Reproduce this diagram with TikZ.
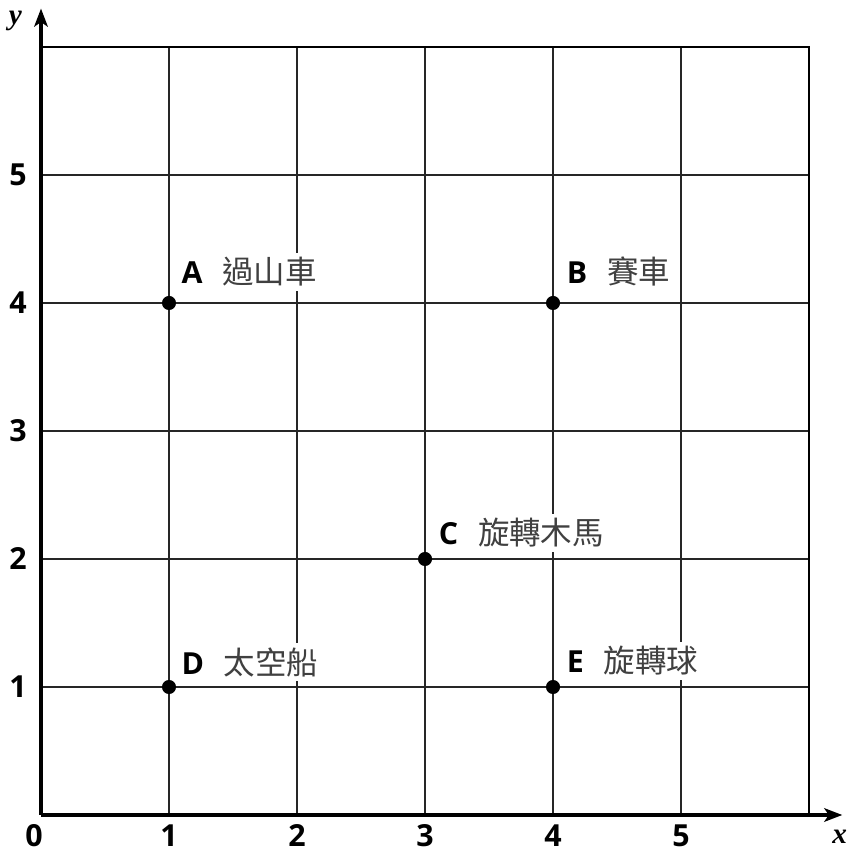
\documentclass[tikz,border=0pt]{standalone}
\usepackage{fontspec}
\setmainfont{Liberation Serif}
\newfontfamily\lblfont{Open Sans}
\newfontfamily\cjk{Noto Sans CJK TC}
\usetikzlibrary{arrows.meta}
\tikzset{
  gridline/.style={line width=0.75pt, black!85},
  frameline/.style={line width=1.1pt, black},
  axisline/.style={line width=1.55pt, black, -{Stealth[length=8pt,width=6pt,inset=2pt]}},
  ticklbl/.style={font=\lblfont\bfseries\fontsize{13.5}{15}\selectfont, inner sep=0pt},
  axislbl/.style={font=\bfseries\itshape\fontsize{13}{15}\selectfont, inner sep=0pt},
  ptdot/.style={fill=black, draw=none},
  ptlabel/.style={fill=white, inner sep=2pt, anchor=base west, font=\fontsize{13.5}{15}\selectfont}
}
\newcommand{\ptname}[2]{{\lblfont\bfseries #1}\hspace{0.65em}{\cjk\fontsize{14}{15}\selectfont\color{black!75}#2}}
\begin{document}
\begin{tikzpicture}[x=2cm,y=2cm]
\useasboundingbox (-0.3203,-0.34375) rectangle (6.297,6.367);
% grid
\foreach \i in {1,...,5} {
  \draw[gridline] (\i,0) -- (\i,6);
  \draw[gridline] (0,\i) -- (6,\i);
}
\draw[frameline] (0,6) -- (6,6) -- (6,0);
% axes
\coordinate (O) at (0,0);
\coordinate (xend) at (6.26,0);
\coordinate (yend) at (0,6.30);
\draw[axisline] (O) -- (xend);
\draw[axisline] (O) -- (yend);
\node[axislbl] (xl) at (6.24,-0.17) {x};
\node[axislbl] (yl) at (-0.20,6.205) {y};
% tick labels
\node[ticklbl] (t0) at (-0.055,-0.16) {0};
\foreach \i in {1,...,5} {
  \node[ticklbl] (tx\i) at (\i,-0.16) {\i};
  \node[ticklbl] (ty\i) at (-0.18,\i) {\i};
}
% points
\foreach \n/\px/\py in {A/1/4, B/4/4, C/3/2, D/1/1, E/4/1} {
  \fill[ptdot] (\px,\py) circle (0.055);
  \coordinate (\n) at (\px,\py);
}
\node[ptlabel] (lA) at ([xshift=0.12cm,yshift=0.30cm]A) {\ptname{A}{過山車}};
\node[ptlabel] (lB) at ([xshift=0.14cm,yshift=0.30cm]B) {\ptname{B}{賽車}};
\node[ptlabel] (lC) at ([xshift=0.14cm,yshift=0.22cm]C) {\ptname{C}{旋轉木馬}};
\node[ptlabel] (lD) at ([xshift=0.12cm,yshift=0.20cm]D) {\ptname{D}{太空船}};
\node[ptlabel] (lE) at ([xshift=0.14cm,yshift=0.22cm]E) {\ptname{E}{旋轉球}};
\end{tikzpicture}
\end{document}
